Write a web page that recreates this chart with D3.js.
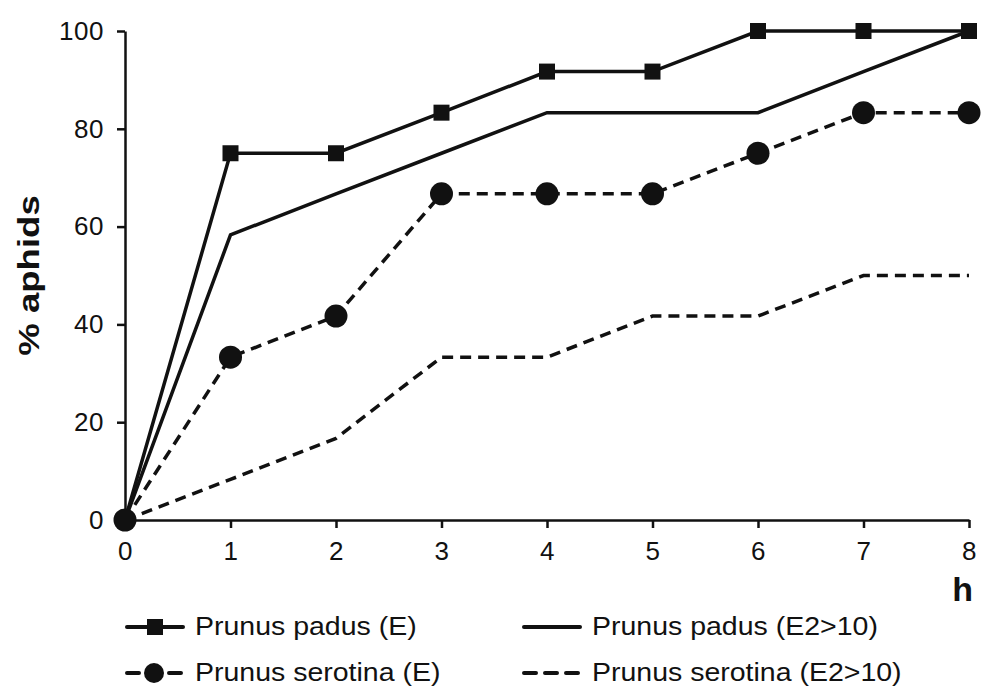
<!DOCTYPE html>
<html>
<head>
<meta charset="utf-8">
<script src="https://cdn.jsdelivr.net/npm/d3@7"></script>
<style>
  body { margin: 0; background: #fff; }
  text { font-family: "Liberation Sans", Arial, sans-serif; fill: #111; }
</style>
</head>
<body>
<div class="chart"></div>
<script>
// Data
var hours = [0, 1, 2, 3, 4, 5, 6, 7, 8];
var padusE = [0, 75, 75, 83.3, 91.7, 91.7, 100, 100, 100];
var padusE2 = [0, 58.3, 66.7, 75, 83.3, 83.3, 83.3, 91.7, 100];
var serotinaE = [0, 33.3, 41.7, 66.7, 66.7, 66.7, 75, 83.3, 83.3];
var serotinaE2 = [0, 8.3, 16.7, 33.3, 33.3, 41.7, 41.7, 50, 50];
var yTicks = [0, 20, 40, 60, 80, 100];

var svgWidth = 1004;
var svgHeight = 698;
var margin = { top: 31, right: 35, bottom: 178, left: 125 };
var width = svgWidth - margin.left - margin.right;
var height = svgHeight - margin.top - margin.bottom;

var svg = d3.select(".chart")
  .append("svg")
  .attr("width", svgWidth)
  .attr("height", svgHeight);

var chartGroup = svg.append("g")
  .attr("transform", `translate(${margin.left}, ${margin.top})`);

// Scales
var x = d3.scaleLinear().domain([0, 8]).range([0, width]);
var y = d3.scaleLinear().domain([0, 100]).range([height, 0]);

// Axes
var xAxis = chartGroup.append("g")
  .attr("transform", `translate(0, ${height})`)
  .call(d3.axisBottom(x).tickValues(hours).tickSize(8).tickSizeOuter(0).tickPadding(14));
var yAxis = chartGroup.append("g")
  .call(d3.axisLeft(y).tickValues(yTicks).tickSize(8).tickSizeOuter(0).tickPadding(13));

[xAxis, yAxis].forEach(function(a) {
  a.attr("font-size", 26).attr("font-family", "'Liberation Sans', Arial, sans-serif");
  a.select(".domain").attr("stroke", "#111").attr("stroke-width", 2.5);
  a.selectAll(".tick line").attr("stroke", "#111").attr("stroke-width", 2.5);
  a.selectAll(".tick text")
    .style("letter-spacing", "0.5px")
    .attr("fill", "#111");
});

// Series
var series = [
  { name: "Prunus padus (E)", values: padusE, dash: null, marker: "square" },
  { name: "Prunus padus (E2>10)", values: padusE2, dash: null, marker: null },
  { name: "Prunus serotina (E)", values: serotinaE, dash: "11,7", marker: "circle" },
  { name: "Prunus serotina (E2>10)", values: serotinaE2, dash: "11,7", marker: null }
];

var line = d3.line()
  .x(function(d, i) { return x(hours[i]); })
  .y(function(d) { return y(d); });

series.forEach(function(s) {
  chartGroup.append("path")
    .datum(s.values)
    .attr("d", line)
    .attr("fill", "none")
    .attr("stroke", "#111")
    .attr("stroke-width", 3.5)
    .attr("stroke-dasharray", s.dash);
});

series.forEach(function(s) {
  if (s.marker === "square") {
    chartGroup.selectAll("rect.m")
      .data(s.values)
      .enter()
      .append("rect")
      .attr("x", function(d, i) { return x(hours[i]) - 8; })
      .attr("y", function(d) { return y(d) - 8; })
      .attr("width", 16)
      .attr("height", 16)
      .attr("fill", "#111");
  } else if (s.marker === "circle") {
    chartGroup.selectAll("circle.m")
      .data(s.values)
      .enter()
      .append("circle")
      .attr("cx", function(d, i) { return x(hours[i]); })
      .attr("cy", function(d) { return y(d); })
      .attr("r", 11.5)
      .attr("fill", "#111");
  }
});

// Axis labels (the original typeface is wider than Arial, so stretch along the text)
chartGroup.append("text")
  .attr("transform", `translate(${-86}, ${height / 2}) rotate(-90) scale(1.22, 1)`)
  .attr("text-anchor", "middle")
  .style("font-size", "30px")
  .style("font-weight", "bold")
  .text("% aphids");

chartGroup.append("text")
  .attr("x", width + 4)
  .attr("y", height + 81)
  .attr("text-anchor", "end")
  .style("font-size", "34px")
  .style("font-weight", "bold")
  .text("h");

// Legend
var legendPos = [
  { x: 126, y: 627 },
  { x: 523, y: 627 },
  { x: 126, y: 673 },
  { x: 523, y: 673 }
];

series.forEach(function(s, i) {
  var p = legendPos[i];
  var g = svg.append("g").attr("transform", `translate(${p.x}, ${p.y})`);
  g.append("line")
    .attr("x1", 1).attr("x2", 57)
    .attr("y1", 0).attr("y2", 0)
    .attr("stroke", "#111")
    .attr("stroke-width", 4)
    .attr("stroke-linecap", "round")
    .attr("stroke-dasharray", s.dash ? "12,9" : null);
  if (s.marker === "square") {
    g.append("rect").attr("x", 21).attr("y", -8).attr("width", 16).attr("height", 16).attr("fill", "#111");
  } else if (s.marker === "circle") {
    g.append("circle").attr("cx", 28).attr("cy", 0).attr("r", 10).attr("fill", "#111");
  }
  g.append("text")
    .attr("transform", "translate(69, 8) scale(1.14, 1)")
    .style("font-size", "25px")
    .text(s.name);
});
</script>
</body>
</html>
